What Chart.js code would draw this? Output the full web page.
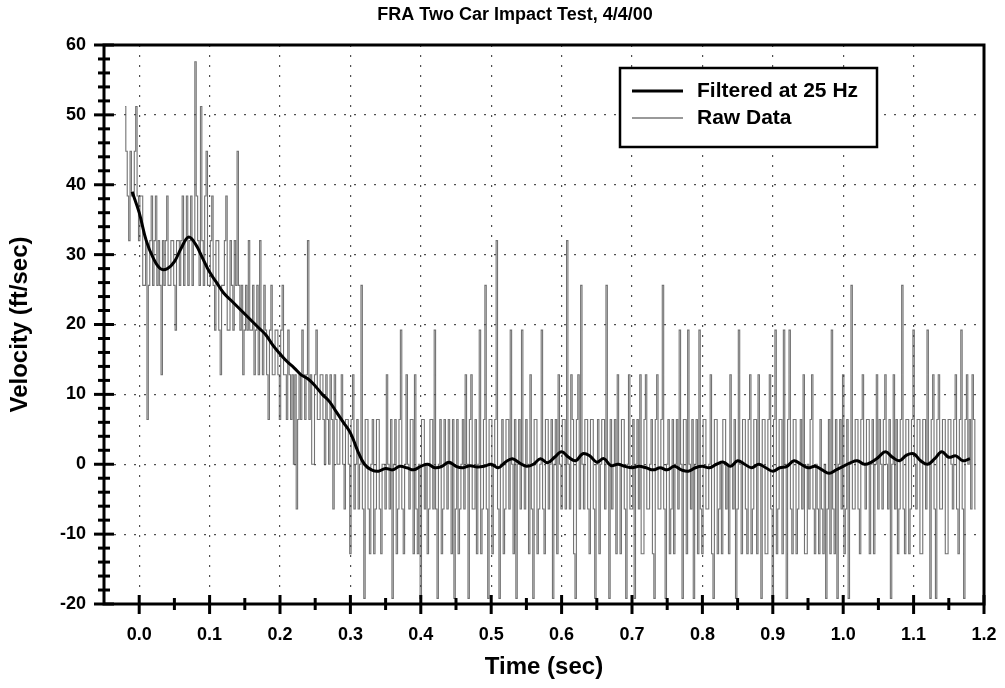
<!DOCTYPE html>
<html>
<head>
<meta charset="utf-8">
<script src="https://cdn.jsdelivr.net/npm/chart.js@4.4.1/dist/chart.umd.min.js"></script>
<style>
  html, body { margin: 0; padding: 0; background: #fff; }
  canvas { display: block; }
</style>
</head>
<body>
<canvas id="c" width="1005" height="688"></canvas>
<script>
// ---------- DATA ----------
const chartTitle = 'FRA Two Car Impact Test, 4/4/00';
const xAxisTitle = 'Time (sec)';
const yAxisTitle = 'Velocity (ft/sec)';
const seriesNames = ['Filtered at 25 Hz', 'Raw Data'];

const xTickValues = [0.0, 0.1, 0.2, 0.3, 0.4, 0.5, 0.6, 0.7, 0.8, 0.9, 1.0, 1.1, 1.2];
const yTickValues = [-20, -10, 0, 10, 20, 30, 40, 50, 60];

// Raw data: sampled every 0.002 s starting at -0.02 s (one row = 0.04 s)
const rawTimeStart = -0.02;
const rawTimeStep = 0.002;
const rawValues = [
  51.2, 44.8, 38.4, 32, 44.8, 38.4, 38.4, 44.8, 51.2, 38.4, 32, 38.4, 38.4, 25.6, 25.6, 32, 6.4, 25.6, 32, 38.4,
  25.6, 32, 38.4, 25.6, 32, 25.6, 12.8, 32, 25.6, 32, 38.4, 25.6, 25.6, 32, 32, 25.6, 19.2, 32, 32, 25.6,
  32, 38.4, 25.6, 32, 38.4, 25.6, 32, 38.4, 25.6, 32, 57.6, 38.4, 32, 25.6, 51.2, 32, 25.6, 38.4, 44.8, 25.6,
  25.6, 32, 38.4, 25.6, 19.2, 32, 32, 19.2, 12.8, 25.6, 25.6, 32, 38.4, 19.2, 19.2, 32, 25.6, 19.2, 32, 25.6,
  44.8, 25.6, 19.2, 25.6, 12.8, 19.2, 25.6, 19.2, 32, 19.2, 19.2, 25.6, 12.8, 19.2, 25.6, 12.8, 32, 19.2, 12.8, 25.6,
  19.2, 12.8, 6.4, 19.2, 25.6, 12.8, 12.8, 19.2, 19.2, 12.8, 6.4, 19.2, 25.6, 12.8, 12.8, 6.4, 19.2, 12.8, 6.4, 12.8,
  0, 12.8, -6.4, 6.4, 12.8, 6.4, 19.2, 12.8, 6.4, 12.8, 32, 6.4, 12.8, 0, 0, 12.8, 19.2, 6.4, 6.4, 12.8,
  12.8, 6.4, 0, 12.8, 6.4, 0, 12.8, 6.4, -6.4, 12.8, 6.4, 0, 0, 6.4, 12.8, 0, -6.4, 6.4, 6.4, 0,
  -12.8, 6.4, 12.8, -6.4, 0, 6.4, -6.4, 0, 25.6, -6.4, -19.2, 6.4, 6.4, -6.4, -12.8, 0, 6.4, -12.8, -6.4, 6.4,
  6.4, -6.4, -12.8, 0, 0, -6.4, 12.8, 0, -6.4, 6.4, -19.2, 0, 6.4, -12.8, -6.4, 6.4, 19.2, -6.4, -12.8, 0,
  12.8, 0, -6.4, 6.4, 6.4, -12.8, 12.8, -6.4, -12.8, 0, -19.2, 6.4, 6.4, -6.4, 0, -12.8, -6.4, 6.4, 6.4, -6.4,
  19.2, -6.4, -19.2, 0, 6.4, -12.8, -6.4, 6.4, 0, -6.4, 6.4, 0, -12.8, 6.4, -19.2, -6.4, 6.4, -12.8, -6.4, 0,
  6.4, -6.4, 12.8, 0, -19.2, 6.4, 12.8, -6.4, -6.4, 6.4, -12.8, 0, 19.2, -12.8, -6.4, 6.4, 25.6, -6.4, -19.2, 6.4,
  6.4, -12.8, 0, 6.4, 32, -6.4, -19.2, 0, 6.4, -12.8, -6.4, 6.4, 6.4, -6.4, 19.2, 0, -12.8, 6.4, -19.2, 0,
  6.4, -6.4, 19.2, 0, -6.4, 6.4, 0, -12.8, 12.8, -6.4, -19.2, 6.4, 6.4, -12.8, -6.4, 0, 19.2, -6.4, -12.8, 6.4,
  6.4, -6.4, 0, 6.4, -19.2, 0, 6.4, -12.8, 12.8, 0, -6.4, 6.4, 6.4, -6.4, 32, 0, -6.4, 12.8, 6.4, -12.8,
  -19.2, 6.4, 12.8, -6.4, 25.6, 0, -6.4, 6.4, 6.4, -6.4, -12.8, 6.4, 6.4, -6.4, -19.2, 0, 6.4, -12.8, 0, 6.4,
  6.4, -6.4, 25.6, 0, -19.2, 6.4, -6.4, 0, 6.4, -12.8, 12.8, 0, -12.8, 6.4, 6.4, -6.4, -19.2, 0, 12.8, -6.4,
  -6.4, 6.4, -19.2, 0, 6.4, -6.4, 12.8, -12.8, -12.8, 6.4, 12.8, -6.4, -6.4, 0, 6.4, -12.8, -19.2, 6.4, 12.8, -6.4,
  -6.4, 6.4, 25.6, -6.4, -19.2, 0, 6.4, -12.8, -6.4, 6.4, -12.8, 0, 6.4, -6.4, 19.2, 0, -19.2, 6.4, 6.4, -12.8,
  19.2, 0, -6.4, 6.4, -19.2, 0, 6.4, -12.8, 19.2, -6.4, -12.8, 6.4, 6.4, -6.4, -6.4, 0, 12.8, -12.8, -19.2, 6.4,
  6.4, -12.8, -6.4, 0, -12.8, 6.4, 6.4, -6.4, 0, -12.8, 12.8, 0, -6.4, 6.4, -19.2, -6.4, 19.2, 0, -12.8, 6.4,
  6.4, -6.4, -12.8, 6.4, 12.8, -12.8, -6.4, 6.4, 6.4, -12.8, 12.8, 0, -19.2, 6.4, 6.4, -12.8, -12.8, 6.4, 12.8, -6.4,
  -19.2, 6.4, 19.2, -12.8, -6.4, 6.4, 6.4, -12.8, 19.2, 0, -19.2, 6.4, 19.2, -6.4, -12.8, 6.4, 6.4, -12.8, -6.4, 0,
  6.4, -6.4, 12.8, -12.8, -12.8, 0, -6.4, 6.4, 12.8, -6.4, -12.8, 0, -6.4, -12.8, 6.4, -6.4, -12.8, 0, -19.2, -6.4,
  6.4, -12.8, 19.2, -6.4, -12.8, 6.4, -19.2, 0, 6.4, -6.4, 12.8, -12.8, -6.4, 6.4, -19.2, 0, 25.6, -6.4, -6.4, 6.4,
  6.4, -6.4, -12.8, 6.4, 12.8, 0, -6.4, 6.4, 6.4, -12.8, 0, 6.4, -12.8, 0, 12.8, -6.4, 6.4, 0, -6.4, 6.4,
  12.8, 0, -6.4, 6.4, -19.2, 0, 12.8, -6.4, 6.4, -12.8, -6.4, 6.4, 25.6, -6.4, -12.8, 6.4, 6.4, -12.8, -6.4, 6.4,
  19.2, 0, -6.4, 6.4, 6.4, -12.8, -12.8, 6.4, 6.4, -6.4, 19.2, 0, -19.2, 6.4, 12.8, -6.4, -19.2, 6.4, 12.8, -6.4,
  -6.4, 6.4, 6.4, -12.8, -12.8, 6.4, 6.4, 0, -6.4, 6.4, 12.8, -6.4, -12.8, 6.4, 19.2, -6.4, -19.2, 6.4, 12.8, 0,
  6.4, -6.4, 12.8, 6.4, -6.4
];

// Filtered data: every 0.01 s starting at -0.01 s
const filteredTimeStart = -0.01;
const filteredTimeStep = 0.01;
const filteredValues = [
  39, 36, 32, 29.5, 28, 28, 29, 31, 32.5, 31.5,
  29.5, 27.5, 26, 24.5, 23.5, 22.5, 21.5, 20.5, 19.5, 18.5,
  17, 15.8, 14.7, 13.8, 12.8, 12.2, 11.2, 10, 9, 7.5,
  6, 4.5, 2, 0, -0.8, -1.0, -0.6, -0.8, -0.3, -0.5,
  -0.8, -0.3, 0, -0.5, -0.3, 0.3, -0.3, -0.5, -0.2, -0.4,
  -0.3, 0, -0.5, 0.3, 0.8, 0.2, -0.3, 0, 0.8, 0.2,
  1.0, 1.8, 1.0, 0.5, 1.5, 1.2, 0.3, 0.8, -0.2, 0,
  -0.3, -0.5, -0.3, -0.5, -0.8, -0.5, -0.8, -0.3, -0.8, -1.0,
  -0.5, -0.3, -0.5, 0, 0.3, -0.3, 0.5, 0, -0.5, 0,
  -0.5, -1.0, -0.5, -0.3, 0.5, 0, -0.5, -0.3, -0.8, -1.3,
  -0.8, -0.3, 0.2, 0.5, 0, 0.3, 1.0, 1.8, 1.0, 0.5,
  1.3, 1.5, 0.5, 0, 0.8, 1.8, 1.0, 1.2, 0.5, 0.8
];

// ---------- BUILD ----------
const rawPoints = rawValues.map((v, i) => ({ x: rawTimeStart + i * rawTimeStep, y: v }));
const filteredPoints = filteredValues.map((v, i) => ({ x: filteredTimeStart + i * filteredTimeStep, y: v }));

const FONT = "'Liberation Sans', Arial, sans-serif";

const framePlugin = {
  id: 'frame',
  afterDraw(chart) {
    const { ctx, chartArea: a, scales } = chart;
    const xs = scales.x, ys = scales.y;
    ctx.save();
    ctx.strokeStyle = '#000';
    ctx.lineCap = 'butt';
    ctx.lineWidth = 3;
    ctx.strokeRect(a.left, a.top, a.right - a.left, a.bottom - a.top);
    xTickValues.forEach(v => {
      const px = xs.getPixelForValue(v);
      ctx.beginPath(); ctx.moveTo(px, a.bottom - 9); ctx.lineTo(px, a.bottom + 10); ctx.stroke();
    });
    for (let i = 0; i < xTickValues.length - 1; i++) {
      const mid = (xTickValues[i] + xTickValues[i + 1]) / 2;
      const px = xs.getPixelForValue(mid);
      ctx.beginPath(); ctx.moveTo(px, a.bottom - 6); ctx.lineTo(px, a.bottom + 6); ctx.stroke();
    }
    yTickValues.forEach(v => {
      const py = ys.getPixelForValue(v);
      ctx.beginPath(); ctx.moveTo(a.left - 10, py); ctx.lineTo(a.left + 10, py); ctx.stroke();
    });
    for (let i = 0; i < yTickValues.length - 1; i++) {
      const lo = yTickValues[i], hi = yTickValues[i + 1];
      const step = (hi - lo) / 5;
      for (let k = 1; k < 5; k++) {
        const py = ys.getPixelForValue(lo + k * step);
        ctx.beginPath(); ctx.moveTo(a.left - 6, py); ctx.lineTo(a.left + 6, py); ctx.stroke();
      }
    }
    // title
    ctx.fillStyle = '#000';
    ctx.font = 'bold 18px ' + FONT;
    ctx.textAlign = 'center';
    ctx.textBaseline = 'middle';
    ctx.fillText(chartTitle, 515, 15);
    // legend
    const lx = 620, ly = 68, lw = 257, lh = 79;
    ctx.fillStyle = '#fff';
    ctx.fillRect(lx, ly, lw, lh);
    ctx.lineWidth = 2.5;
    ctx.strokeStyle = '#000';
    ctx.strokeRect(lx, ly, lw, lh);
    ctx.lineWidth = 3;
    ctx.beginPath(); ctx.moveTo(632, 91); ctx.lineTo(683, 91); ctx.stroke();
    ctx.lineWidth = 1.5;
    ctx.strokeStyle = '#777';
    ctx.beginPath(); ctx.moveTo(632, 118); ctx.lineTo(683, 118); ctx.stroke();
    ctx.fillStyle = '#000';
    ctx.font = 'bold 21px ' + FONT;
    ctx.textBaseline = 'middle';
    ctx.textAlign = 'left';
    ctx.fillText(seriesNames[0], 697, 91);
    ctx.fillText(seriesNames[1], 697, 118);
    ctx.restore();
  }
};

new Chart(document.getElementById('c'), {
  type: 'line',
  data: {
    datasets: [
      {
        label: seriesNames[0],
        data: filteredPoints,
        borderColor: '#000',
        borderWidth: 3,
        pointRadius: 0,
        tension: 0.4,
        fill: false,
        order: 0
      },
      {
        label: seriesNames[1],
        data: rawPoints,
        borderColor: 'rgba(80,80,80,0.8)',
        borderWidth: 1.1,
        pointRadius: 0,
        stepped: 'middle',
        fill: false,
        order: 1
      }
    ]
  },
  options: {
    responsive: false,
    animation: false,
    events: [],
    layout: { padding: { left: 0, right: 21, top: 45, bottom: 0 } },
    plugins: {
      legend: { display: false },
      tooltip: { enabled: false },
      title: { display: false }
    },
    scales: {
      x: {
        type: 'linear',
        min: -0.05,
        max: 1.2,
        afterBuildTicks: s => { s.ticks = xTickValues.map(v => ({ value: v })); },
        afterFit: s => { s.height = 84; s.paddingRight = 0; s.paddingLeft = 0; },
        ticks: {
          color: '#000',
          font: { family: FONT, size: 18, weight: 'bold' },
          padding: 20,
          maxRotation: 0,
          autoSkip: false,
          callback: v => Number(v).toFixed(1)
        },
        grid: {
          drawTicks: false,
          color: 'rgba(60,60,60,0.9)',
          lineWidth: 1.2
        },
        border: { display: false, dash: [2, 8] },
        title: {
          display: true,
          text: xAxisTitle,
          color: '#000',
          font: { family: FONT, size: 24, weight: 'bold' },
          padding: { top: 0, bottom: 6 }
        }
      },
      y: {
        type: 'linear',
        min: -20,
        max: 60,
        afterBuildTicks: s => { s.ticks = yTickValues.map(v => ({ value: v })); },
        afterFit: s => { s.width = 104; s.paddingTop = 0; s.paddingBottom = 0; },
        ticks: {
          color: '#000',
          font: { family: FONT, size: 18, weight: 'bold' },
          padding: 18,
          callback: v => String(v)
        },
        grid: {
          drawTicks: false,
          color: 'rgba(60,60,60,0.9)',
          lineWidth: 1.2
        },
        border: { display: false, dash: [2, 8] },
        title: {
          display: true,
          text: yAxisTitle,
          color: '#000',
          font: { family: FONT, size: 24, weight: 'bold' },
          padding: { top: 6, bottom: 0 }
        }
      }
    }
  },
  plugins: [framePlugin]
});
</script>
</body>
</html>
